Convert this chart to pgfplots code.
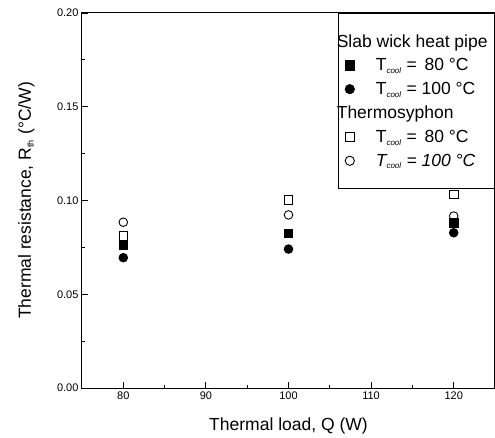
\documentclass[border=0pt]{standalone}
\usepackage{fontspec}
\setmainfont{Liberation Sans}
\usepackage{pgfplots}
\pgfplotsset{compat=1.18}

\newcommand{\Tc}{T\textsubscript{\fontsize{8}{8}\selectfont\itshape cool}}

\begin{document}
\begin{tikzpicture}
\begin{axis}[
    scale only axis,
    width=413pt, height=375pt,
    xmin=75, xmax=125,
    ymin=0, ymax=0.20,
    xtick={80,90,100,110,120},
    ytick={0,0.05,0.10,0.15,0.20},
    minor x tick num=1, minor y tick num=1,
    xtick pos=bottom, ytick pos=left,
    tick align=inside,
    major tick length=6pt, minor tick length=3pt,
    axis line style={line width=1pt},
    every tick/.style={black, line width=0.8pt},
    /pgf/number format/assume math mode=true,
    y tick label style={/pgf/number format/fixed,
        /pgf/number format/fixed zerofill,
        /pgf/number format/precision=2},
    tick label style={font=\fontsize{11}{13}\selectfont},
    xlabel={Thermal load, Q (W)},
    ylabel={Thermal resistance, R\textsubscript{\fontsize{9}{9}\selectfont th} (°C/W)},
    every axis x label/.style={at={(axis description cs:0.5,0)}, yshift=-42pt,
        anchor=base, font=\fontsize{17.5}{20}\selectfont},
    every axis y label/.style={at={(axis description cs:0,0.5)}, xshift=-51pt,
        rotate=90, anchor=base, font=\fontsize{17.5}{20}\selectfont},
    legend style={at={(1,1)}, anchor=north east, draw=black, line width=0.8pt,
        fill=white, font=\fontsize{17.5}{20}\selectfont,
        inner xsep=5pt, inner ysep=19pt, row sep=6pt},
    legend cell align=left,
    legend image code/.code={
        \draw[#1, mark size=4.6pt] plot coordinates {(6pt,0pt)};
        \pgfpathrectangle{\pgfpoint{0pt}{-4pt}}{\pgfpoint{30pt}{8pt}}
        \pgfusepath{use as bounding box}
    },
    every axis plot/.append style={only marks, black, mark size=4.3pt, line width=0.9pt},
]
\addlegendimage{empty legend}
\addlegendentry{\hspace{-39pt}Slab wick heat pipe\hspace{3pt}}

% slab wick heat pipe
\addplot[mark=square*, mark options={fill=black}] coordinates {
    (80,0.0763) (100,0.0825) (120,0.0880)
};
\addlegendentry{\Tc\ = \,80 °C}
\addplot[mark=*, mark options={fill=black}] coordinates {
    (80,0.0695) (100,0.0741) (120,0.0828)
};
\addlegendentry{\Tc\ = 100 °C}

\addlegendimage{empty legend}
\addlegendentry{\hspace{-39pt}Thermosyphon}

% thermosyphon
\addplot[mark=square, mark options={fill=white}] coordinates {
    (80,0.0812) (100,0.1003) (120,0.1033)
};
\addlegendentry{\Tc\ = \,80 °C}
\addplot[mark=o, mark options={fill=white}] coordinates {
    (80,0.0884) (100,0.0923) (120,0.0917)
};
\addlegendentry{\itshape\Tc\ = 100 °C}

\coordinate (sw) at (rel axis cs:0,0);
\coordinate (ne) at (rel axis cs:1,1);
\end{axis}
\pgfresetboundingbox
\path ([shift={(-82pt,-49pt)}]sw) rectangle ([shift={(0pt,13pt)}]ne);
\end{tikzpicture}
\end{document}
